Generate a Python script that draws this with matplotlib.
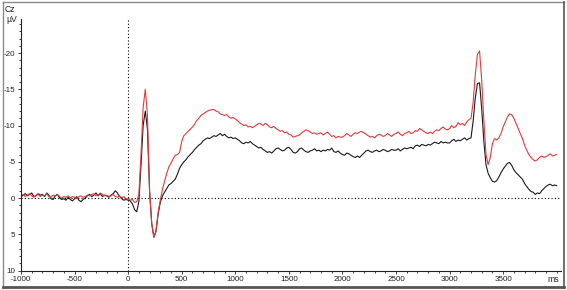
import numpy as np
import matplotlib
matplotlib.use('Agg')
import matplotlib.pyplot as plt
from matplotlib.ticker import MultipleLocator
from matplotlib.lines import Line2D

plt.rcParams['font.family'] = ['Liberation Sans', 'DejaVu Sans']
plt.rcParams['axes.unicode_minus'] = False

# sample times (ms), one every 20 ms
times = np.arange(-1000, 4001, 20)

# Cz amplitude (uV), 10 samples (200 ms) per row
red_uv = [
    -0.3, -0.5, -0.2, -0.4, -0.6, -0.3, -0.1, -0.4, -0.5, -0.2,    # -1000
    -0.4, -0.3, -0.6, -0.2, -0.1, -0.4, -0.3, -0.5, -0.2, 0.0,     # -800
    -0.2, -0.1, -0.3, 0.0, -0.2, -0.1, 0.1, -0.2, -0.3, -0.1,      # -600
    -0.2, -0.4, -0.3, -0.5, -0.6, -0.3, -0.4, -0.7, -0.5, -0.3,    # -400
    -0.4, -0.2, -0.3, -0.5, -0.2, -0.1, -0.3, 0.0, -0.2, 0.1,      # -200
    0.1, 0.3, 0.2, 0.6, 0.5, -0.5, -6.0, -12.5, -15.0, -11.5,      # 0
    -1.0, 3.5, 5.4, 4.5, 2.0, 0.3, -1.2, -2.3, -3.4, -4.3,         # 200
    -4.8, -5.4, -5.9, -6.0, -6.3, -7.8, -8.6, -8.9, -9.2, -9.5,    # 400
    -9.8, -10.2, -10.7, -11.0, -11.4, -11.6, -11.8, -12.0, -12.1, -12.2,  # 600
    -12.2, -12.0, -11.9, -11.6, -11.5, -11.4, -11.5, -11.2, -11.0, -11.1,  # 800
    -10.9, -10.7, -10.4, -10.2, -10.0, -10.1, -9.8, -9.9, -9.7, -9.9,  # 1000
    -10.1, -10.3, -10.2, -10.0, -10.3, -10.1, -9.8, -9.7, -9.9, -9.6,  # 1200
    -9.4, -9.2, -9.3, -9.0, -9.1, -8.8, -8.7, -8.4, -8.5, -8.6,    # 1400
    -8.7, -9.0, -9.2, -9.4, -9.3, -9.1, -8.9, -9.0, -8.8, -8.9,    # 1600
    -9.0, -8.7, -8.9, -9.1, -8.8, -8.5, -8.6, -8.3, -8.5, -8.4,    # 1800
    -8.4, -8.6, -8.9, -8.7, -8.5, -8.8, -9.0, -8.9, -9.1, -9.2,    # 2000
    -9.0, -8.8, -8.6, -8.4, -8.5, -8.3, -8.6, -8.8, -8.7, -8.5,    # 2200
    -8.6, -8.9, -8.7, -8.5, -8.8, -8.9, -9.1, -8.8, -8.6, -8.9,    # 2400
    -9.0, -9.2, -8.9, -9.0, -9.3, -9.2, -9.6, -9.4, -9.2, -9.0,    # 2600
    -8.9, -9.1, -8.9, -9.2, -9.4, -9.3, -9.6, -9.8, -9.5, -9.4,    # 2800
    -9.6, -10.0, -9.7, -9.9, -10.4, -10.1, -10.3, -10.0, -10.5, -10.8,  # 3000
    -11.0, -13.2, -17.0, -19.8, -20.3, -16.2, -10.7, -6.0, -4.6, -5.6,  # 3200
    -7.5, -8.2, -8.0, -8.3, -8.9, -9.8, -10.5, -11.2, -11.6, -11.5,  # 3400
    -11.0, -10.3, -9.6, -8.9, -8.2, -7.3, -6.6, -6.0, -5.6, -5.3,  # 3600
    -5.1, -5.3, -5.6, -5.8, -5.6, -5.7, -5.9, -6.1, -5.8, -5.9,    # 3800
    -6.0,
]

black_uv = [
    -0.2, -0.4, -0.6, -0.3, -0.5, -0.7, -0.2, -0.3, -0.6, -0.4,    # -1000
    -0.5, -0.2, -0.7, -0.4, 0.1, 0.2, -0.3, -0.5, 0.0, 0.2,        # -800
    0.1, 0.3, -0.1, 0.2, 0.4, 0.1, -0.2, 0.3, 0.5, 0.2,            # -600
    0.0, -0.3, -0.5, -0.2, -0.4, -0.7, -0.3, -0.6, -0.2, -0.4,     # -400
    -0.3, -0.1, -0.4, -0.6, -1.0, -0.7, -0.2, 0.1, 0.3, 0.2,       # -200
    0.3, 0.4, 0.8, 1.6, 1.9, 0.5, -4.5, -10.0, -12.0, -9.5,        # 0
    -1.0, 3.5, 5.4, 4.6, 2.2, 0.6, -0.3, -0.8, -1.3, -1.8,         # 200
    -2.0, -2.3, -2.6, -3.3, -4.1, -4.6, -5.0, -5.3, -5.7, -6.0,    # 400
    -6.3, -6.7, -7.0, -7.3, -7.5, -7.9, -8.1, -8.3, -8.2, -8.4,    # 600
    -8.6, -8.5, -8.7, -8.9, -8.6, -8.8, -8.5, -8.3, -8.4, -8.2,    # 800
    -8.3, -8.1, -7.9, -7.6, -7.5, -7.7, -7.6, -7.8, -7.5, -7.3,    # 1000
    -7.1, -6.9, -7.0, -6.7, -6.5, -6.3, -6.4, -6.2, -6.5, -6.8,    # 1200
    -6.9, -6.7, -6.5, -6.6, -6.9, -7.0, -6.7, -6.3, -6.2, -6.4,    # 1400
    -6.8, -6.9, -6.6, -6.4, -6.3, -6.5, -6.6, -6.8, -6.5, -6.6,    # 1600
    -6.4, -6.6, -6.5, -6.7, -6.6, -6.9, -6.4, -6.3, -6.5, -6.2,    # 1800
    -6.0, -5.9, -6.2, -6.1, -5.9, -5.7, -5.6, -5.8, -5.6, -5.9,    # 2000
    -6.2, -6.5, -6.6, -6.4, -6.3, -6.5, -6.6, -6.4, -6.5, -6.7,    # 2200
    -6.6, -6.4, -6.5, -6.7, -6.6, -6.6, -6.8, -6.5, -6.7, -6.9,    # 2400
    -6.8, -6.9, -7.0, -6.8, -7.2, -7.3, -7.1, -7.4, -7.3, -7.2,    # 2600
    -7.4, -7.3, -7.5, -7.7, -7.6, -7.5, -7.8, -7.6, -7.7, -7.6,    # 2800
    -7.6, -7.9, -8.1, -7.8, -8.0, -7.9, -8.1, -8.3, -8.0, -8.2,    # 3000
    -8.3, -10.6, -13.8, -15.8, -15.9, -12.3, -7.8, -4.6, -3.4, -2.8,  # 3200
    -2.3, -2.2, -2.4, -2.9, -3.5, -4.0, -4.4, -4.8, -4.9, -4.5,    # 3400
    -3.9, -3.5, -3.2, -2.9, -2.6, -2.0, -1.6, -1.2, -0.9, -0.8,    # 3600
    -0.5, -0.7, -0.6, -1.0, -1.3, -1.6, -1.8, -1.9, -1.7, -1.8,    # 3800
    -1.7,
]

y_ticks = [-20, -15, -10, -5, 0, 5, 10]
x_ticks = [-1000, -500, 0, 500, 1000, 1500, 2000, 2500, 3000, 3500]

fig = plt.figure(figsize=(5.67, 2.9), dpi=100)
ax = fig.add_axes([21 / 567, 19.5 / 290, 540 / 567, 251.5 / 290])

ax.axhline(0, color='black', lw=0.8, ls=(0, (1, 2)))
ax.axvline(0, color='black', lw=0.8, ls=(0, (1, 2)))

ax.plot(times, black_uv, color='#1a1a1a', lw=0.8)
ax.plot(times, red_uv, color='#e23a3c', lw=0.8)

ax.set_xlim(-1000, 4040)
ax.set_ylim(10, -24.7)

ax.set_xticks(x_ticks)
ax.set_yticks(y_ticks)
ax.xaxis.set_minor_locator(MultipleLocator(100))
ax.yaxis.set_minor_locator(MultipleLocator(1))
ax.tick_params(which='major', length=2.5, width=0.6, labelsize=5.8,
               colors='#222222', pad=1.5)
ax.tick_params(which='minor', length=1.2, width=0.6, colors='#222222')

for side in ['top', 'right']:
    ax.spines[side].set_visible(False)
for side in ['left', 'bottom']:
    ax.spines[side].set_linewidth(0.8)
    ax.spines[side].set_color('#222222')

fig.text(5 / 567, 1 - 9 / 290, 'Cz', fontsize=6.2, color='#222222', va='center')
fig.text(6 / 567, 1 - 19 / 290, 'µV', fontsize=6.2, color='#222222', va='center')
fig.text(547 / 567, 1 - 280 / 290, 'ms', fontsize=6.2, color='#222222', va='center')

# window frame
fig.add_artist(Line2D([3 / 567, 3 / 567], [2 / 290, 288 / 290], color='#8a8a8a', lw=1))
fig.add_artist(Line2D([3 / 567, 564 / 567], [288.5 / 290, 288.5 / 290], color='#8a8a8a', lw=1))
fig.add_artist(Line2D([564 / 567, 564 / 567], [2 / 290, 288 / 290], color='#555555', lw=1.2))
fig.add_artist(Line2D([3 / 567, 564 / 567], [3 / 290, 3 / 290], color='#555555', lw=2))

fig.savefig('out.png', dpi=100)
